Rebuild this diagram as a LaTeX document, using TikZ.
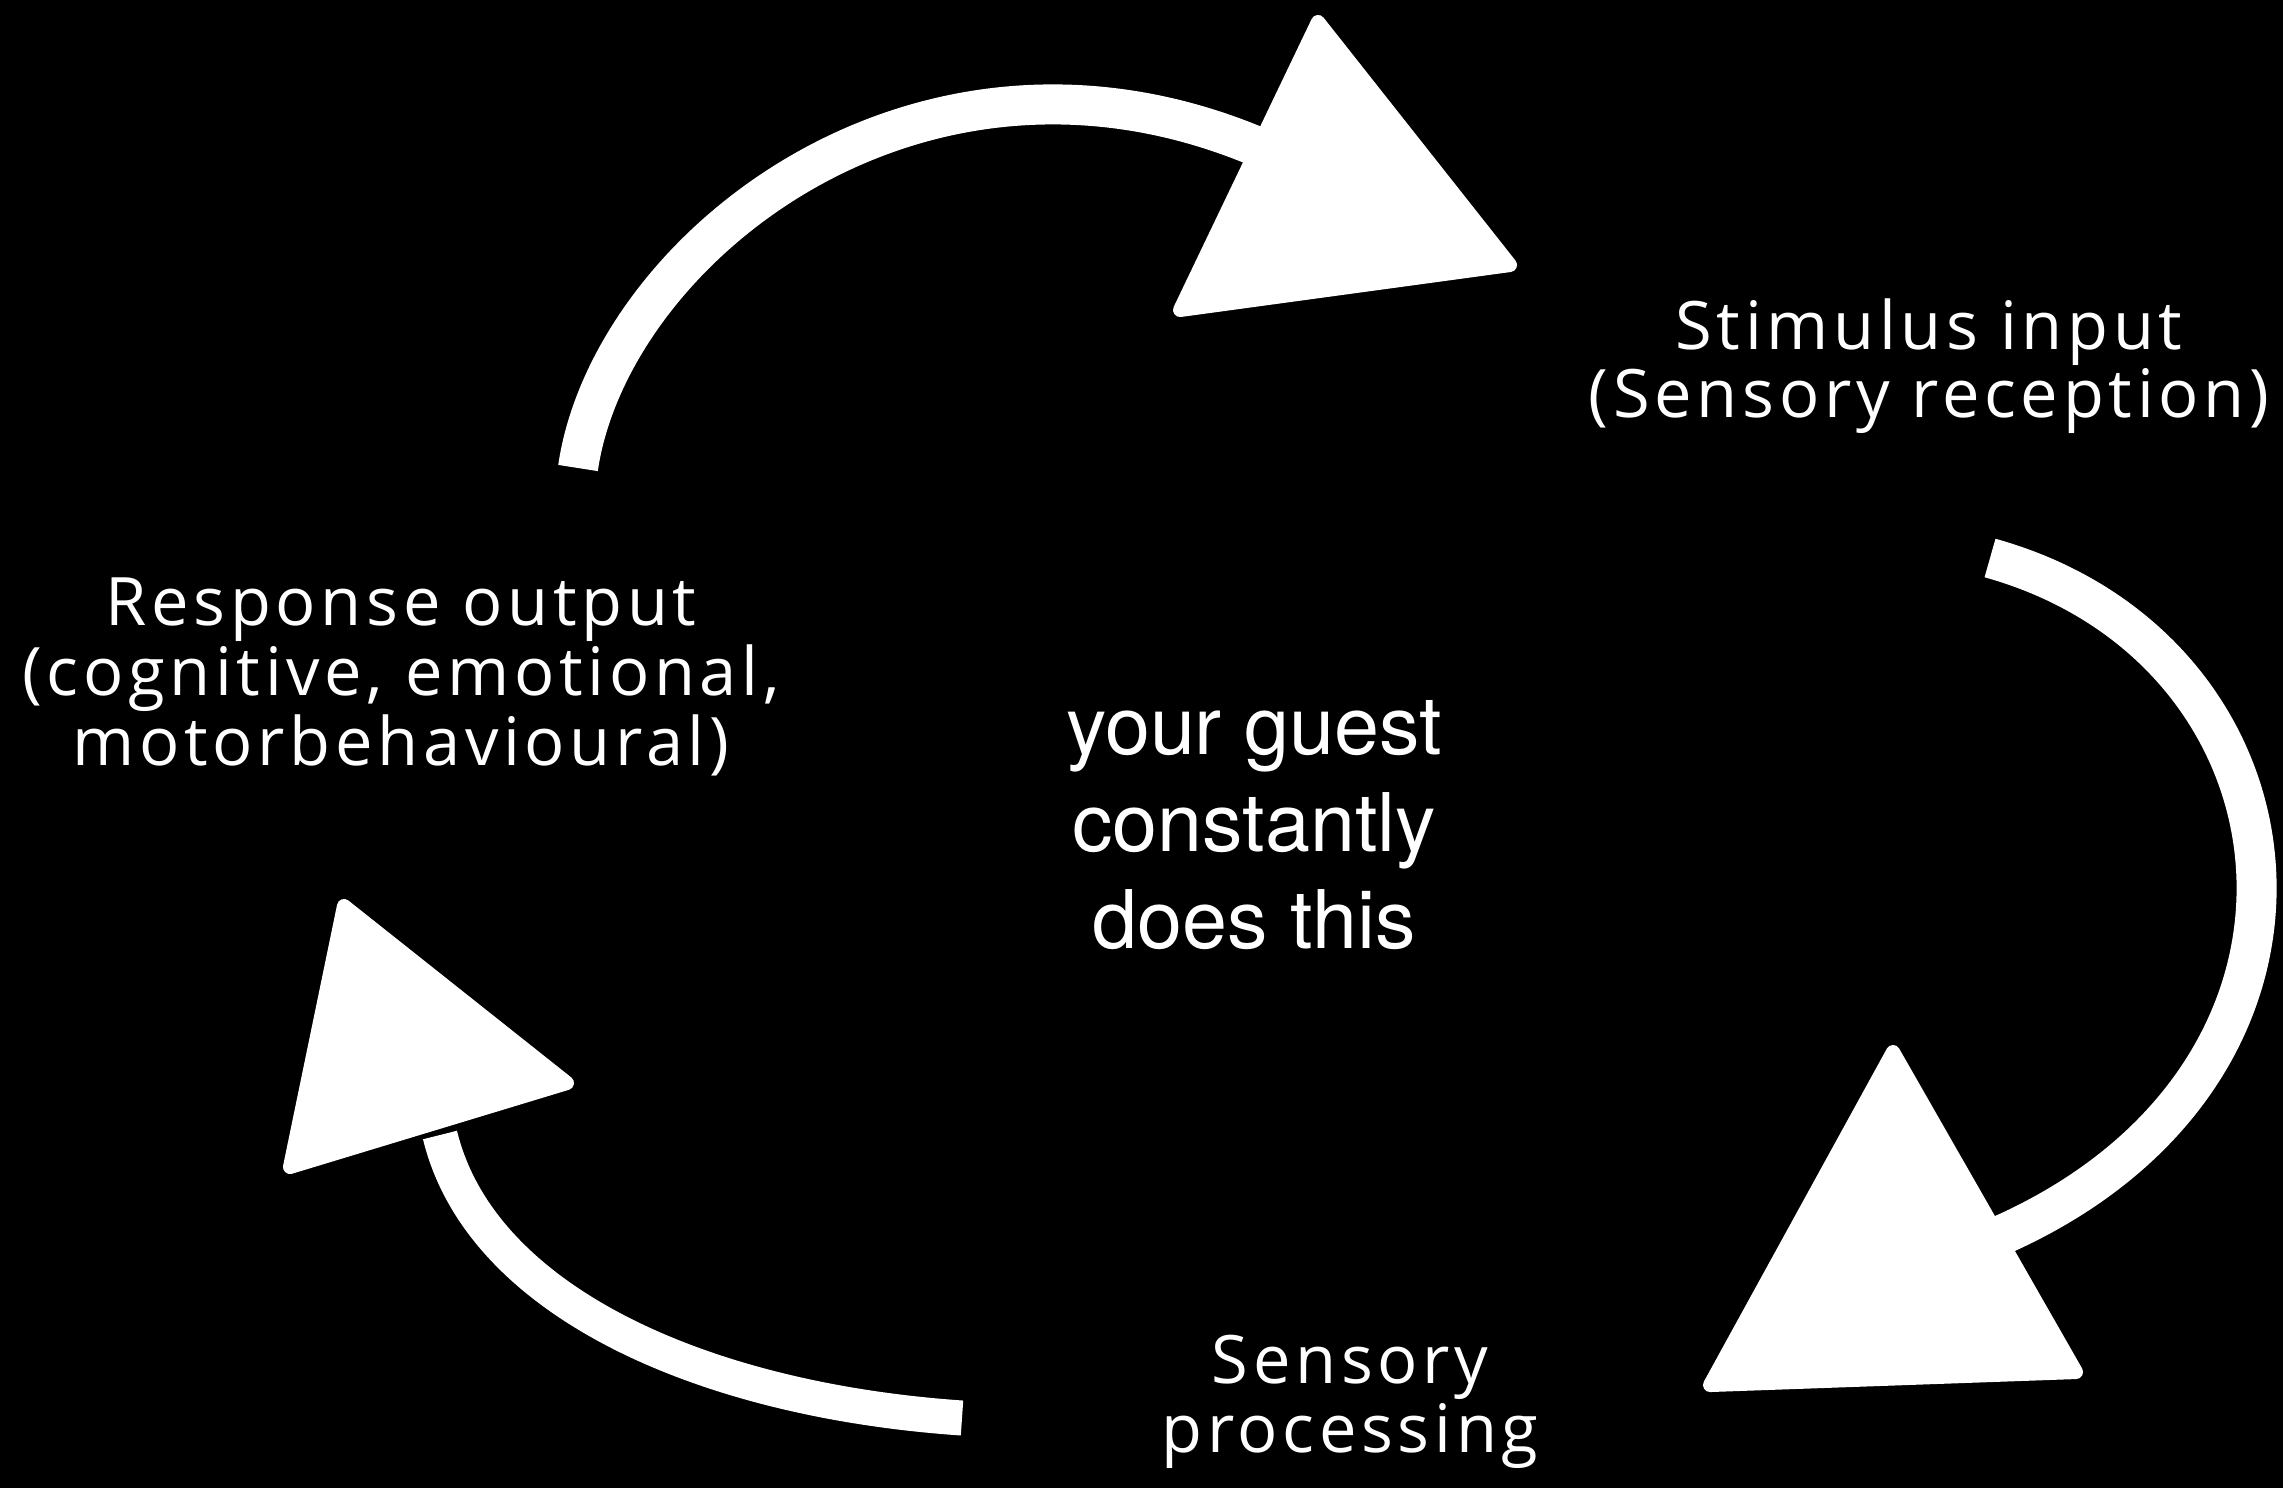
\documentclass[tikz,border=0pt]{standalone}
\usepackage{fontspec}
\setmainfont{TeX Gyre Heros}
\newfontfamily\chalkfont[LetterSpace=7]{Open Sans}
\begin{document}
\begin{tikzpicture}[x=0.01cm,y=-0.01cm]
\tikzstyle{chalk} = [draw=white, line width=0.4cm]
\tikzstyle{tip} = [fill=white, draw=white, line width=4pt, line join=round]
\tikzstyle{chalktext} = [text=white, align=center, font=\chalkfont\fontsize{19}{18.5}\selectfont]
\tikzstyle{guesttext} = [text=white, align=center, font=\fontsize{23}{27.5}\selectfont]

\fill[black] (0,0) rectangle (2283,1488);
\useasboundingbox (0,0) rectangle (2283,1488);

\node[chalktext] (stimulus) at (1929,366) {Stimulus input\\(Sensory reception)};
\node[chalktext] (response) at (401,677) {Response output\\(cognitive, emotional,\\motorbehavioural)};
\node[chalktext] (processing) at (1350,1402) {Sensory\\processing};
\node[guesttext] (guest) at (1254,825) {your guest\\constantly\\does this};

% top arrow, towards the stimulus
\coordinate (top start) at (578,468);
\coordinate (top end) at (1265,150);
\draw[chalk] (top start) .. controls (610,250) and (920,0) .. (top end);
\fill[tip] (1318,22) -- (1510,265) -- (1180,310) -- cycle;

% right arrow, towards the processing
\coordinate (right start) at (1990,558);
\coordinate (right end) at (1990,1240);
\draw[chalk] (right start) .. controls (2320,650) and (2370,1080) .. (right end);
\fill[tip] (1893,1052) -- (2076,1372) -- (1710,1385) -- cycle;

% left arrow, towards the response
\coordinate (left start) at (962,1418);
\coordinate (left end) at (440,1135);
\draw[chalk, line width=0.35cm] (left start) .. controls (700,1400) and (480,1300) .. (left end);
\fill[tip] (344,906) -- (567,1083) -- (290,1167) -- cycle;

\end{tikzpicture}
\end{document}
